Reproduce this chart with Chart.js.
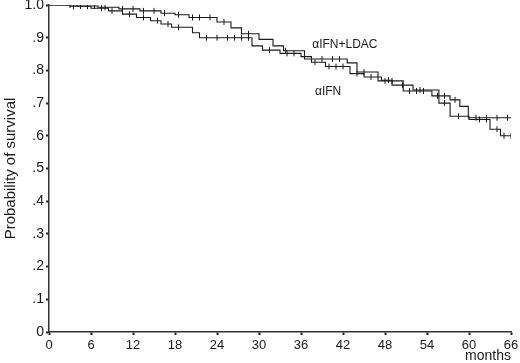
<!DOCTYPE html>
<html>
<head>
<meta charset="utf-8">
<script src="https://cdn.jsdelivr.net/npm/chart.js@4/dist/chart.umd.min.js"></script>
<style>
    html, body { margin: 0; padding: 0; background: #fff; }
    #wrap { width: 520px; height: 363px; }
</style>
</head>
<body>
<div id="wrap"><canvas id="survivalChart" width="520" height="363"></canvas></div>
<script>
// Kaplan-Meier steps (months, probability)
const ldacTimes = [0, 4, 7, 10, 13, 16, 18, 20, 24, 26, 27.5, 30, 32, 33.5, 36.5, 42.6, 44, 47, 50.6, 54.7, 57.3, 58.7, 59.9, 66];
const ldacSurv  = [1.0, 0.997, 0.993, 0.988, 0.982, 0.975, 0.97, 0.962, 0.948, 0.93, 0.912, 0.895, 0.875, 0.86, 0.835, 0.823, 0.795, 0.768, 0.737, 0.722, 0.71, 0.69, 0.655, 0.655];
const ldacCensored = [3, 4.5, 6.5, 8, 10.5, 12, 13.5, 15, 16.5, 18.5, 20.5, 21.5, 23, 25, 28.5, 33.8, 37.5, 39, 40.5, 41.5, 45, 48, 49, 51.5, 52.5, 53.5, 55.5, 56.5, 58, 61, 62.5, 64, 65.5];

const ifnTimes = [0, 3, 6, 8.5, 10.5, 12.5, 14.5, 16, 17.5, 20.5, 21.5, 29, 30.5, 33, 36, 37.5, 39.5, 43, 45, 47.5, 49, 52, 55.7, 57.3, 60, 63, 64.5, 66];
const ifnSurv  = [1.0, 0.996, 0.99, 0.982, 0.972, 0.962, 0.952, 0.942, 0.932, 0.915, 0.9, 0.875, 0.862, 0.852, 0.842, 0.825, 0.812, 0.79, 0.78, 0.77, 0.755, 0.74, 0.70, 0.66, 0.65, 0.62, 0.60, 0.60];
const ifnCensored = [3.5, 5.5, 7.5, 9, 11.5, 13.5, 15.5, 17, 18.5, 22.5, 24, 25.5, 26.5, 27.5, 28.5, 31.5, 34, 35, 38, 40, 41, 42, 44, 46, 48.5, 50.5, 53, 56.5, 58.5, 61.5, 62.5, 64, 65, 66];

const xTicks = [0, 6, 12, 18, 24, 30, 36, 42, 48, 54, 60, 66];
const yTicks = [0, 0.1, 0.2, 0.3, 0.4, 0.5, 0.6, 0.7, 0.8, 0.9, 1.0];

const curveLabels = [
    { text: '\u03b1IFN+LDAC', month: 37.6, surv: 0.878 },
    { text: '\u03b1IFN', month: 38.0, surv: 0.734 }
];

const FONT = "'Liberation Sans', Arial, Helvetica, sans-serif";
const INK = '#1a1a1a';

function toPoints(times, surv) {
    return times.map((t, i) => ({ x: t, y: surv[i] }));
}

// survival value at time t on a step curve
function stepValue(times, surv, t) {
    let v = surv[0];
    for (let i = 0; i < times.length; i++) {
        if (times[i] <= t) v = surv[i];
    }
    return v;
}

function censorPoints(times, surv, marks) {
    return marks.map(t => ({ x: t, y: stepValue(times, surv, t) }));
}

const curveLabelPlugin = {
    id: 'curveLabels',
    afterDatasetsDraw(chart) {
        const ctx = chart.ctx;
        const xs = chart.scales.x;
        const ys = chart.scales.y;
        ctx.save();
        ctx.font = '12px ' + FONT;
        ctx.fillStyle = INK;
        ctx.textAlign = 'left';
        ctx.textBaseline = 'middle';
        curveLabels.forEach(l => {
            ctx.fillText(l.text, xs.getPixelForValue(l.month), ys.getPixelForValue(l.surv));
        });
        ctx.restore();
    }
};

const censorStyle = {
    type: 'scatter',
    pointStyle: 'line',
    rotation: 90,
    radius: 3,
    borderWidth: 1,
    borderColor: INK,
    backgroundColor: INK
};

function noScalePadding(scale) {
    scale.paddingTop = 0;
    scale.paddingBottom = 0;
    scale.paddingLeft = 0;
    scale.paddingRight = 0;
}

const ctx = document.getElementById('survivalChart').getContext('2d');
const survivalChart = new Chart(ctx, {
    type: 'scatter',
    data: {
        datasets: [
            {
                label: '\u03b1IFN+LDAC',
                type: 'line',
                data: toPoints(ldacTimes, ldacSurv),
                stepped: 'before',
                borderColor: INK,
                borderWidth: 1.1,
                pointRadius: 0,
                fill: false
            },
            {
                label: '\u03b1IFN',
                type: 'line',
                data: toPoints(ifnTimes, ifnSurv),
                stepped: 'before',
                borderColor: INK,
                borderWidth: 1.1,
                pointRadius: 0,
                fill: false
            },
            Object.assign({ label: 'censored LDAC', data: censorPoints(ldacTimes, ldacSurv, ldacCensored) }, censorStyle),
            Object.assign({ label: 'censored IFN', data: censorPoints(ifnTimes, ifnSurv, ifnCensored) }, censorStyle)
        ]
    },
    options: {
        responsive: false,
        animation: false,
        layout: { padding: { top: 5, right: 9, left: 0, bottom: 0 } },
        plugins: {
            legend: { display: false },
            tooltip: { enabled: false }
        },
        scales: {
            x: {
                type: 'linear',
                min: 0,
                max: 66,
                afterBuildTicks: function(scale) {
                    scale.ticks = xTicks.map(v => ({ value: v }));
                },
                afterFit: function(scale) {
                    scale.height = 31;
                    noScalePadding(scale);
                },
                border: { display: true, color: '#333', width: 1.5 },
                grid: { drawOnChartArea: false, drawTicks: true, tickLength: 3, tickWidth: 2, color: '#222' },
                ticks: {
                    color: INK,
                    padding: 3,
                    maxRotation: 0,
                    font: { family: FONT, size: 13 }
                },
                title: {
                    display: true,
                    text: 'months',
                    align: 'end',
                    color: INK,
                    padding: { top: 0, bottom: 0 },
                    font: { family: FONT, size: 14, lineHeight: 1 }
                }
            },
            y: {
                type: 'linear',
                min: 0,
                max: 1,
                afterBuildTicks: function(scale) {
                    scale.ticks = yTicks.map(v => ({ value: v }));
                },
                afterFit: function(scale) {
                    scale.width = 49;
                    noScalePadding(scale);
                },
                border: { display: true, color: '#333', width: 1.5 },
                grid: { drawOnChartArea: false, drawTicks: true, tickLength: 3, tickWidth: 2, color: '#222' },
                ticks: {
                    color: INK,
                    padding: 2,
                    font: { family: FONT, size: 14 },
                    callback: function(value) {
                        if (value === 0) return '0';
                        if (value >= 1) return '1.0';
                        return '.' + Math.round(value * 10);
                    }
                },
                title: {
                    display: true,
                    text: 'Probability of survival',
                    color: INK,
                    padding: { top: 2, bottom: 0 },
                    font: { family: FONT, size: 15, lineHeight: 1.2 }
                }
            }
        }
    },
    plugins: [curveLabelPlugin]
});
</script>
</body>
</html>
